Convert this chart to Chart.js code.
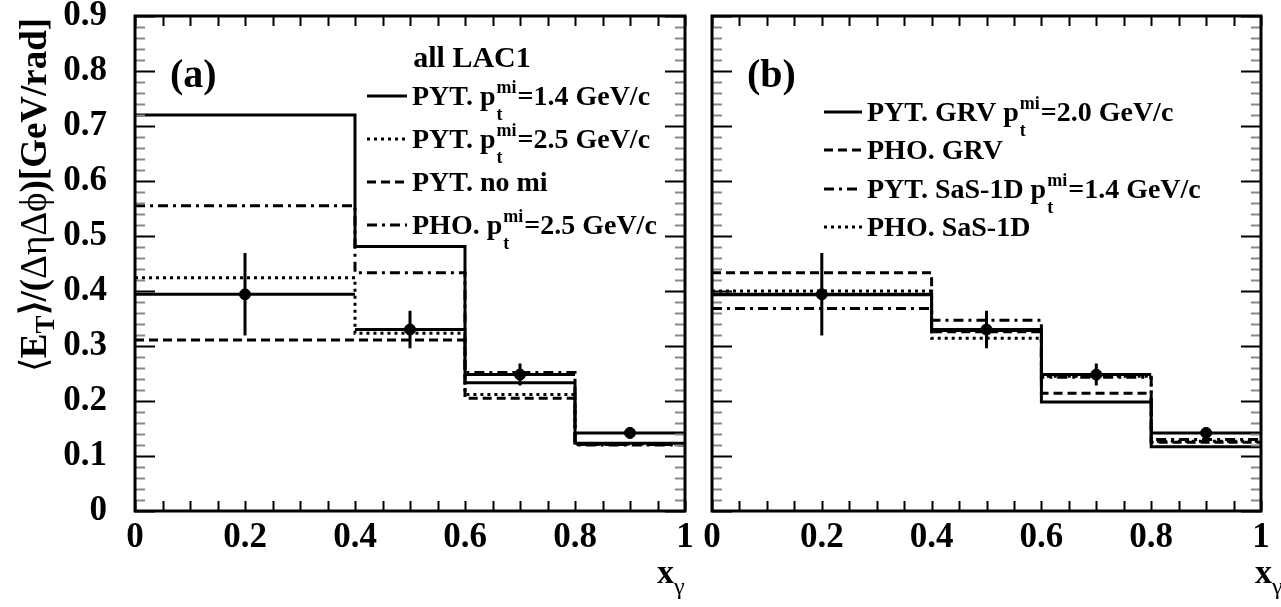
<!DOCTYPE html>
<html>
<head>
<meta charset="utf-8">
<script src="https://cdn.jsdelivr.net/npm/chart.js@4.4.0/dist/chart.umd.min.js"></script>
<style>
  html, body { margin: 0; padding: 0; background: #fff; }
  #wrap { position: relative; width: 1281px; height: 607px; overflow: hidden; }
  canvas { position: absolute; top: 0; }
  #left { left: 0; }
  #right { left: 698px; }
</style>
</head>
<body>
<div id="wrap">
  <canvas id="left" width="698" height="607"></canvas>
  <canvas id="right" width="583" height="607"></canvas>
</div>
<script>
// bin edges in x_gamma and tick labels
const binEdges = [0, 0.4, 0.6, 0.8, 1.0];
const xTickLabels = ['0', '0.2', '0.4', '0.6', '0.8', '1'];
const yTickLabels = ['0', '0.1', '0.2', '0.3', '0.4', '0.5', '0.6', '0.7', '0.8', '0.9'];

// measured points (same in both panels)
const dataX = [0.2, 0.5, 0.7, 0.9];
const dataY = [0.394, 0.330, 0.248, 0.142];
const dataErr = [0.075, 0.034, 0.020, 0.010];

// panel (a) - all LAC1
const pytMi14 = [0.720, 0.481, 0.233, 0.123];
const pytMi25 = [0.424, 0.323, 0.212, 0.122];
const pytNoMi = [0.311, 0.311, 0.205, 0.121];
const phoMi25 = [0.555, 0.433, 0.252, 0.120];

// panel (b)
const pytGrv20 = [0.393, 0.328, 0.198, 0.117];
const phoGrv = [0.433, 0.326, 0.214, 0.125];
const pytSas14 = [0.368, 0.347, 0.243, 0.130];
const phoSas = [0.400, 0.314, 0.245, 0.127];

const SERIF = "'Liberation Serif', 'Times New Roman', serif";
const SOLID = [], DOT = [3, 4], DASH = [9, 5], DASHDOT = [10, 5, 3, 5];

function histDataset(label, values, dash) {
    return {
        label: label,
        data: binEdges.map((x, i) => ({ x: x, y: values[Math.min(i, values.length - 1)] })),
        stepped: 'before',
        borderColor: '#000',
        borderWidth: 3,
        borderDash: dash,
        pointRadius: 0,
        fill: false,
        order: 2
    };
}

function dataDataset() {
    return {
        label: 'data',
        data: dataX.map((x, i) => ({ x: x, y: dataY[i] })),
        showLine: false,
        pointRadius: 5.5,
        pointBackgroundColor: '#000',
        pointBorderColor: '#000',
        order: 0
    };
}

// label like "PYT. p_t^mi=1.4 GeV/c" -> p with sub t and sup mi
function drawLegendLabel(ctx, x, yMid, label) {
    const base = yMid + 9;
    const parts = label.split('_t^mi');
    ctx.textAlign = 'left';
    ctx.textBaseline = 'alphabetic';
    ctx.font = 'bold 28px ' + SERIF;
    ctx.fillText(parts[0], x, base);
    let cx = x + ctx.measureText(parts[0]).width;
    if (parts.length > 1) {
        ctx.font = 'bold 18px ' + SERIF;
        ctx.fillText('mi', cx + 1, base - 12);
        ctx.fillText('t', cx + 1, base + 15);
        cx += ctx.measureText('mi').width + 2;
        ctx.font = 'bold 28px ' + SERIF;
        ctx.fillText(parts[1], cx, base);
    }
}

function drawSegments(ctx, segs, x, y) {
    let cx = x;
    segs.forEach(s => {
        ctx.font = s.font;
        ctx.fillText(s.t, cx, y + (s.dy || 0));
        cx += ctx.measureText(s.t).width;
    });
    return cx - x;
}

const histPlugin = {
    id: 'histDecor',
    afterDatasetsDraw(chart, args, opts) {
        const ctx = chart.ctx;
        const a = chart.chartArea;
        const xs = chart.scales.x, ys = chart.scales.y;

        // error bars of the data points
        ctx.save();
        ctx.strokeStyle = '#000';
        ctx.lineWidth = 3;
        dataX.forEach((x, i) => {
            const px = xs.getPixelForValue(x);
            const py = ys.getPixelForValue(dataY[i]);
            ctx.beginPath();
            ctx.moveTo(px, ys.getPixelForValue(dataY[i] - dataErr[i]));
            ctx.lineTo(px, ys.getPixelForValue(dataY[i] + dataErr[i]));
            ctx.moveTo(xs.getPixelForValue(binEdges[i]), py);
            ctx.lineTo(xs.getPixelForValue(binEdges[i + 1]), py);
            ctx.stroke();
        });

        // ticks on all four sides
        ctx.lineWidth = 2;
        for (let i = 0; i <= 45; i++) {
            const py = Math.round(ys.getPixelForValue(i * 0.02)) + 0.5;
            const major = i % 5 === 0;
            const len = major ? 20 : 10;
            ctx.strokeStyle = major ? '#000' : '#888';
            ctx.beginPath();
            ctx.moveTo(a.left, py); ctx.lineTo(a.left + len, py);
            ctx.moveTo(a.right, py); ctx.lineTo(a.right - len, py);
            ctx.stroke();
        }
        ctx.strokeStyle = '#000';
        for (let i = 0; i <= 20; i++) {
            const px = Math.round(xs.getPixelForValue(i * 0.05)) + 0.5;
            ctx.beginPath();
            ctx.moveTo(px, a.bottom); ctx.lineTo(px, a.bottom - 10);
            ctx.moveTo(px, a.top); ctx.lineTo(px, a.top + 10);
            ctx.stroke();
        }
        ctx.lineWidth = 3;
        ctx.strokeRect(a.left, a.top, a.right - a.left, a.bottom - a.top);

        // panel texts
        ctx.fillStyle = '#000';
        ctx.textAlign = 'left';
        ctx.textBaseline = 'alphabetic';
        ctx.font = 'bold 40px ' + SERIF;
        ctx.fillText(opts.panelLabel, opts.panelX, 87);
        if (opts.header) {
            ctx.font = 'bold 30px ' + SERIF;
            ctx.textAlign = 'center';
            ctx.fillText(opts.header, opts.headerX, 67);
            ctx.textAlign = 'left';
        }

        // legend
        opts.legendRows.forEach((rowY, k) => {
            const ds = chart.data.datasets[k];
            ctx.save();
            ctx.strokeStyle = '#000';
            ctx.lineWidth = ds.borderWidth;
            ctx.setLineDash(ds.borderDash);
            ctx.beginPath();
            ctx.moveTo(opts.lineX0, rowY);
            ctx.lineTo(opts.lineX1, rowY);
            ctx.stroke();
            ctx.restore();
            drawLegendLabel(ctx, opts.textX, rowY, ds.label);
        });

        // x axis title
        drawSegments(ctx, [
            { t: 'x', font: 'bold 34px ' + SERIF },
            { t: 'γ', font: '24px ' + SERIF, dy: 11 }
        ], opts.xTitleX, 583);

        // y axis title
        if (opts.yTitle) {
            const segs = [
                { t: '⟨', font: '37px ' + SERIF },
                { t: 'E', font: 'bold 37px ' + SERIF },
                { t: 'T', font: 'bold 27px ' + SERIF, dy: 8 },
                { t: '⟩/(', font: 'bold 37px ' + SERIF },
                { t: 'ΔηΔϕ', font: '37px ' + SERIF },
                { t: ')[GeV/rad]', font: 'bold 37px ' + SERIF }
            ];
            let w = 0;
            segs.forEach(s => { ctx.font = s.font; w += ctx.measureText(s.t).width; });
            ctx.save();
            ctx.translate(46, 195);
            ctx.rotate(-Math.PI / 2);
            drawSegments(ctx, segs, -w / 2, 0);
            ctx.restore();
        }
        ctx.restore();
    }
};

function makePanel(canvasId, datasets, cfg) {
    return new Chart(document.getElementById(canvasId), {
        type: 'line',
        data: { datasets: datasets },
        options: {
            responsive: false,
            animation: false,
            events: [],
            layout: { autoPadding: false, padding: { left: 0, right: cfg.padRight, top: 16, bottom: 0 } },
            plugins: {
                legend: { display: false },
                tooltip: { enabled: false },
                histDecor: cfg
            },
            scales: {
                x: {
                    type: 'linear',
                    min: 0, max: 1,
                    grid: { display: false, drawTicks: false },
                    border: { display: false },
                    ticks: {
                        stepSize: 0.2,
                        autoSkip: false,
                        maxRotation: 0,
                        padding: 6,
                        color: '#000',
                        font: { family: SERIF, size: 35, weight: 'bold' },
                        callback: v => xTickLabels[Math.round(v * 5)]
                    },
                    afterFit: s => {
                        s.height = 96;
                        s.paddingLeft = 0; s.paddingRight = 0;
                        s.paddingTop = 0; s.paddingBottom = 0;
                    }
                },
                y: {
                    type: 'linear',
                    min: 0, max: 0.9,
                    grid: { display: false, drawTicks: false },
                    border: { display: false },
                    ticks: {
                        display: cfg.yLabels,
                        stepSize: 0.1,
                        autoSkip: false,
                        padding: 28,
                        color: '#000',
                        font: { family: SERIF, size: 35, weight: 'bold' },
                        callback: v => yTickLabels[Math.round(v * 10)]
                    },
                    afterFit: s => {
                        s.width = cfg.yAxisWidth;
                        s.paddingLeft = 0; s.paddingRight = 0;
                        s.paddingTop = 0; s.paddingBottom = 0;
                    }
                }
            }
        },
        plugins: [histPlugin]
    });
}

makePanel('left', [
    histDataset('PYT. p_t^mi=1.4 GeV/c', pytMi14, SOLID),
    histDataset('PYT. p_t^mi=2.5 GeV/c', pytMi25, DOT),
    histDataset('PYT. no mi', pytNoMi, DASH),
    histDataset('PHO. p_t^mi=2.5 GeV/c', phoMi25, DASHDOT),
    dataDataset()
], {
    yAxisWidth: 135, padRight: 13, yLabels: true, yTitle: true,
    panelLabel: '(a)', panelX: 170, header: 'all LAC1', headerX: 472,
    lineX0: 367, lineX1: 407, textX: 412, legendRows: [96, 139, 182, 225],
    xTitleX: 657
});

makePanel('right', [
    histDataset('PYT. GRV p_t^mi=2.0 GeV/c', pytGrv20, SOLID),
    histDataset('PHO. GRV', phoGrv, DASH),
    histDataset('PYT. SaS-1D p_t^mi=1.4 GeV/c', pytSas14, DASHDOT),
    histDataset('PHO. SaS-1D', phoSas, DOT),
    dataDataset()
], {
    yAxisWidth: 14, padRight: 20, yLabels: false, yTitle: false,
    panelLabel: '(b)', panelX: 49, header: null,
    lineX0: 126, lineX1: 164, textX: 169, legendRows: [112, 150, 189, 227],
    xTitleX: 557
});
</script>
</body>
</html>
